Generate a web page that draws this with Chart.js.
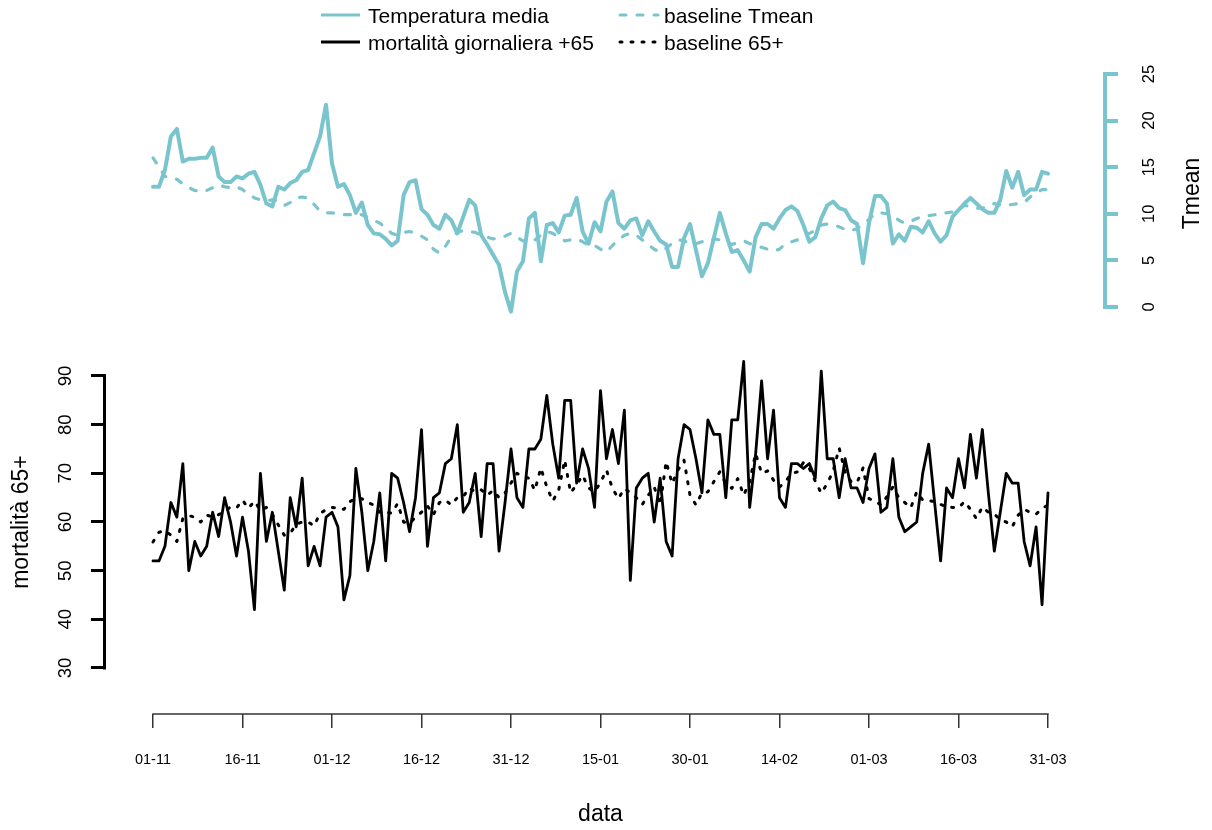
<!DOCTYPE html>
<html>
<head>
<meta charset="utf-8">
<script src="https://cdn.jsdelivr.net/npm/chart.js@4/dist/chart.umd.min.js"></script>
<style>
  html, body { margin: 0; padding: 0; background: #ffffff; }
  canvas { display: block; }
</style>
</head>
<body>
<canvas id="chart" width="1212" height="830"></canvas>
<script>
// Daily series, 1 November to 31 March (151 days)
const tmean = [
  12.9, 12.9, 14.7, 18.3, 19.1, 15.6, 15.9, 15.9, 16.0, 16.0,
  17.1, 14.0, 13.4, 13.4, 14.0, 13.8, 14.3, 14.5, 13.1, 11.1,
  10.8, 12.9, 12.6, 13.3, 13.6, 14.5, 14.7, 16.5, 18.3, 21.7,
  15.4, 12.9, 13.2, 12.0, 10.1, 11.2, 8.8, 7.9, 7.8, 7.3,
  6.6, 7.1, 12.0, 13.4, 13.6, 10.5, 9.9, 8.8, 8.4, 9.9,
  9.3, 7.9, 9.7, 11.5, 10.9, 7.7, 6.7, 5.6, 4.5, 1.6,
  -0.5, 3.8, 4.9, 9.5, 10.1, 4.9, 8.8, 9.0, 8.0, 9.8,
  9.9, 11.7, 8.1, 6.8, 9.1, 8.1, 11.3, 12.4, 9.0, 8.4,
  9.3, 9.5, 7.7, 9.2, 8.1, 7.1, 6.7, 4.3, 4.3, 7.4,
  8.9, 6.1, 3.3, 4.7, 7.4, 10.1, 7.9, 5.9, 6.1, 5.0,
  3.8, 7.5, 8.9, 8.9, 8.4, 9.5, 10.4, 10.8, 10.3, 8.8,
  7.0, 7.5, 9.5, 10.9, 11.3, 10.6, 10.4, 9.3, 8.9, 4.7,
  9.0, 11.9, 11.9, 11.1, 6.8, 7.8, 7.1, 8.6, 8.5, 8.0,
  9.2, 7.9, 7.0, 7.7, 9.7, 10.4, 11.1, 11.7, 11.1, 10.5,
  10.1, 10.1, 11.5, 14.6, 12.8, 14.5, 12.0, 12.6, 12.6, 14.5,
  14.3
];
const tmeanBaseline = [
  16.0, 15.0, 14.0, 13.9, 13.7, 13.2, 12.8, 12.5, 12.4, 12.5,
  12.8, 13.1, 12.9, 12.8, 12.9, 12.6, 12.1, 11.7, 11.5, 11.4,
  11.5, 11.4, 10.9, 11.2, 11.7, 11.8, 11.7, 11.0, 10.3, 10.1,
  10.1, 10.0, 9.9, 9.9, 10.0, 9.9, 9.6, 9.3, 9.0, 8.5,
  7.9, 7.7, 8.0, 8.1, 7.9, 7.6, 7.2, 6.2, 5.8, 6.5,
  7.5, 8.0, 8.2, 8.1, 8.0, 7.7, 7.5, 7.3, 7.4, 7.6,
  7.9, 7.5, 7.1, 6.9, 7.2, 7.7, 8.1, 7.9, 7.5, 7.1,
  7.2, 7.3, 7.0, 6.6, 6.6, 6.2, 5.9, 6.6, 7.2, 7.7,
  7.9, 7.7, 7.2, 6.7, 6.2, 5.9, 6.3, 6.8, 7.2, 7.1,
  6.8, 6.8, 7.0, 7.1, 7.3, 7.2, 7.0, 6.7, 6.9, 7.1,
  6.8, 6.6, 6.4, 6.2, 6.0, 6.2, 6.8, 7.0, 7.2, 7.5,
  7.9, 8.2, 8.8, 8.9, 8.8, 8.6, 8.3, 8.2, 8.4, 8.9,
  9.4, 10.0, 10.1, 10.0, 9.8, 9.3, 9.0, 9.2, 9.5, 9.7,
  9.8, 9.9, 10.0, 10.1, 10.2, 10.4, 10.9, 10.8, 10.6, 10.6,
  10.8, 11.1, 10.9, 10.9, 11.0, 11.1, 11.2, 11.8, 12.2, 12.6,
  12.6
];
const mortality = [
  52, 52, 55, 64, 61, 72, 50, 56, 53, 55,
  62, 57, 65, 60, 53, 61, 54, 42, 70, 56,
  62, 54, 46, 65, 59, 69, 51, 55, 51, 61,
  62, 59, 44, 49, 71, 62, 50, 56, 66, 52,
  70, 69, 64, 58, 65, 79, 55, 65, 66, 72,
  73, 80, 62, 64, 70, 57, 72, 72, 54, 64,
  75, 65, 63, 75, 75, 77, 86, 76, 69, 85,
  85, 68, 75, 71, 63, 87, 73, 79, 72, 83,
  48, 67, 69, 70, 60, 69, 56, 53, 73, 80,
  79, 73, 66, 81, 78, 78, 65, 81, 81, 93,
  63, 74, 89, 73, 83, 65, 63, 72, 72, 71,
  72, 69, 91, 73, 73, 65, 73, 67, 67, 64,
  71, 74, 62, 63, 73, 61, 58, 59, 60, 70,
  76, 64, 52, 67, 65, 73, 67, 78, 69, 79,
  66, 54, 62, 70, 68, 68, 56, 51, 59, 43,
  66
];
const mortalityBaseline = [
  55.9, 57.9, 58.2, 57.3, 56.0, 60.7, 61.3, 61.0, 60.0, 61.4,
  61.1, 61.5, 62.1, 63.1, 62.9, 64.5, 62.8, 64.3, 62.4, 63.0,
  61.6, 59.4, 57.3, 57.7, 59.5, 60.0, 60.0, 59.2, 61.8, 62.5,
  63.0, 62.8, 62.6, 64.2, 64.8, 64.8, 64.0, 63.5, 62.0, 62.0,
  61.8, 63.8, 60.0, 59.7, 61.0, 62.0, 63.3, 61.5, 64.0, 64.5,
  63.5, 65.0, 65.2, 67.0, 66.2, 66.6, 65.5, 66.5, 65.0, 66.0,
  68.0, 70.0, 69.3, 69.0, 66.5, 71.1, 67.2, 64.3, 66.6, 72.7,
  66.0, 67.7, 69.6, 67.0, 66.2, 68.1, 70.7, 66.9, 64.8, 66.9,
  66.0, 65.0, 63.6, 65.5, 67.2, 63.5, 72.4, 67.9, 70.7, 72.7,
  65.5, 63.5, 66.0, 66.2, 68.3, 70.3, 67.9, 66.9, 68.9, 65.5,
  68.3, 74.1, 70.0, 70.5, 68.6, 67.2, 68.3, 70.0, 70.3, 72.2,
  71.0, 68.4, 65.9, 67.9, 70.5, 75.2, 70.2, 68.3, 68.1, 71.1,
  64.8, 64.3, 63.5, 65.2, 67.2, 65.0, 64.0, 62.9, 66.2, 64.5,
  64.4, 64.2, 63.6, 63.1, 63.0, 62.9, 64.2, 62.6, 60.7, 63.1,
  62.0, 61.6, 60.5, 60.0, 59.0, 61.4, 62.6, 62.0, 61.6, 62.8,
  63.5
];

// Axis ticks
const tickDays = [0, 15, 30, 45, 60, 75, 90, 105, 120, 135, 150];
const tickLabels = ['01-11', '16-11', '01-12', '16-12', '31-12', '15-01', '30-01', '14-02', '01-03', '16-03', '31-03'];
const mortTicks = [30, 40, 50, 60, 70, 80, 90];
const tempTicks = [0, 5, 10, 15, 20, 25];

const TEAL = '#7AC5CD';
const FONT = "'Liberation Sans', Arial, Helvetica, sans-serif";

const toPoints = arr => arr.map((v, i) => ({ x: i, y: v }));
const fixedTicks = values => scale => { scale.ticks = values.map(v => ({ value: v })); };

// Axis spines (first to last tick only), axis titles and the two-column legend
const decorations = {
  id: 'decorations',
  afterDraw(chart) {
    const ctx = chart.ctx;
    const { x, y, y2 } = chart.scales;
    ctx.save();

    const seg = (x1, y1, x2, y2p, color, w) => {
      ctx.beginPath();
      ctx.strokeStyle = color;
      ctx.lineWidth = w;
      ctx.lineCap = 'butt';
      ctx.moveTo(x1, y1);
      ctx.lineTo(x2, y2p);
      ctx.stroke();
    };

    // bottom axis
    const xw = x.options.grid.lineWidth;
    seg(x.getPixelForValue(tickDays[0]) - xw / 2, x.top,
        x.getPixelForValue(tickDays[tickDays.length - 1]) + xw / 2, x.top,
        x.options.grid.color, xw);
    // left axis
    const lw = y.options.grid.lineWidth;
    seg(y.right - lw / 2, y.getPixelForValue(mortTicks[0]) + lw / 2,
        y.right - lw / 2, y.getPixelForValue(mortTicks[mortTicks.length - 1]) - lw / 2,
        y.options.grid.color, lw);
    // right axis
    const rw = y2.options.grid.lineWidth;
    seg(y2.left + rw / 2, y2.getPixelForValue(tempTicks[0]) + rw / 2,
        y2.left + rw / 2, y2.getPixelForValue(tempTicks[tempTicks.length - 1]) - rw / 2,
        y2.options.grid.color, rw);

    // axis titles
    ctx.fillStyle = '#000000';
    ctx.font = '23px ' + FONT;
    ctx.textAlign = 'center';
    ctx.textBaseline = 'middle';
    ctx.fillText(x.options.title.text,
      (x.getPixelForValue(tickDays[0]) + x.getPixelForValue(tickDays[tickDays.length - 1])) / 2, 815);

    ctx.save();
    ctx.translate(22, (y.getPixelForValue(mortTicks[0]) + y.getPixelForValue(mortTicks[mortTicks.length - 1])) / 2);
    ctx.rotate(-Math.PI / 2);
    ctx.fillText(y.options.title.text, 0, 0);
    ctx.restore();

    ctx.save();
    ctx.translate(1193, (y2.getPixelForValue(tempTicks[0]) + y2.getPixelForValue(tempTicks[tempTicks.length - 1])) / 2 + 3);
    ctx.rotate(-Math.PI / 2);
    ctx.fillText(y2.options.title.text, 0, 0);
    ctx.restore();

    // legend: column-major, two columns
    const ds = chart.data.datasets;
    const order = [[0, 2], [1, 3]];
    const cols = [{ x0: 321, x1: 360, tx: 368 }, { x0: 620, x1: 658, tx: 664 }];
    const rows = [{ ly: 15, by: 23 }, { ly: 42, by: 50 }];
    ctx.font = '21px ' + FONT;
    ctx.textAlign = 'left';
    ctx.textBaseline = 'alphabetic';
    order.forEach((col, c) => {
      col.forEach((di, r) => {
        const d = ds[di];
        ctx.beginPath();
        ctx.strokeStyle = d.borderColor;
        ctx.lineWidth = Math.min(d.borderWidth, 3);
        ctx.lineCap = d.borderDash.length ? 'round' : 'butt';
        ctx.setLineDash(d.borderDash);
        ctx.moveTo(cols[c].x0, rows[r].ly);
        ctx.lineTo(cols[c].x1, rows[r].ly);
        ctx.stroke();
        ctx.setLineDash([]);
        ctx.fillStyle = '#000000';
        ctx.fillText(d.label, cols[c].tx, rows[r].by);
      });
    });

    ctx.restore();
  }
};

const lineStyle = {
  pointRadius: 0,
  pointHoverRadius: 0,
  tension: 0,
  fill: false,
  borderJoinStyle: 'round',
  borderCapStyle: 'round'
};

new Chart(document.getElementById('chart'), {
  type: 'line',
  data: {
    datasets: [
      Object.assign({ label: 'Temperatura media', data: toPoints(tmean), yAxisID: 'y2',
        borderColor: TEAL, borderWidth: 4, borderDash: [] }, lineStyle),
      Object.assign({ label: 'baseline Tmean', data: toPoints(tmeanBaseline), yAxisID: 'y2',
        borderColor: TEAL, borderWidth: 3.2, borderDash: [6, 11] }, lineStyle),
      Object.assign({ label: 'mortalità giornaliera +65', data: toPoints(mortality), yAxisID: 'y',
        borderColor: '#000000', borderWidth: 2.8, borderDash: [] }, lineStyle),
      Object.assign({ label: 'baseline 65+', data: toPoints(mortalityBaseline), yAxisID: 'y',
        borderColor: '#000000', borderWidth: 3, borderDash: [2, 9] }, lineStyle)
    ]
  },
  options: {
    responsive: false,
    animation: false,
    events: [],
    layout: { padding: { top: 60, left: 0, right: 0, bottom: 0 } },
    plugins: { legend: { display: false }, tooltip: { enabled: false }, title: { display: false } },
    scales: {
      x: {
        type: 'linear',
        position: 'bottom',
        min: -7.877,
        max: 159.218,
        afterBuildTicks: fixedTicks(tickDays),
        afterFit: s => { s.height = 116; },
        border: { display: false },
        grid: { drawOnChartArea: false, drawTicks: true, tickLength: 14, color: '#333333', lineWidth: 1.5 },
        ticks: {
          autoSkip: false, maxRotation: 0, minRotation: 0, padding: 23,
          color: '#000000', font: { family: FONT, size: 14.5 },
          callback: v => tickLabels[tickDays.indexOf(v)]
        },
        title: { display: false, text: 'data' }
      },
      y: {
        type: 'linear',
        position: 'left',
        min: 20.548,
        max: 154.93,
        afterBuildTicks: fixedTicks(mortTicks),
        afterFit: s => { s.width = 106; },
        border: { display: false },
        grid: { drawOnChartArea: false, drawTicks: true, tickLength: 15, color: '#000000', lineWidth: 3 },
        ticks: {
          minRotation: 90, maxRotation: 90, crossAlign: 'center', padding: 15,
          color: '#000000', font: { family: FONT, size: 18.5 }
        },
        title: { display: false, text: 'mortalità 65+' }
      },
      y2: {
        type: 'linear',
        position: 'right',
        min: -43.67,
        max: 26.50,
        afterBuildTicks: fixedTicks(tempTicks),
        afterFit: s => { s.width = 109; },
        border: { display: false },
        grid: { drawOnChartArea: false, drawTicks: true, tickLength: 15, color: TEAL, lineWidth: 4 },
        ticks: {
          minRotation: 90, maxRotation: 90, crossAlign: 'center', padding: 22,
          color: '#000000', font: { family: FONT, size: 16.5 }
        },
        title: { display: false, text: 'Tmean' }
      }
    }
  },
  plugins: [decorations]
});
</script>
</body>
</html>
